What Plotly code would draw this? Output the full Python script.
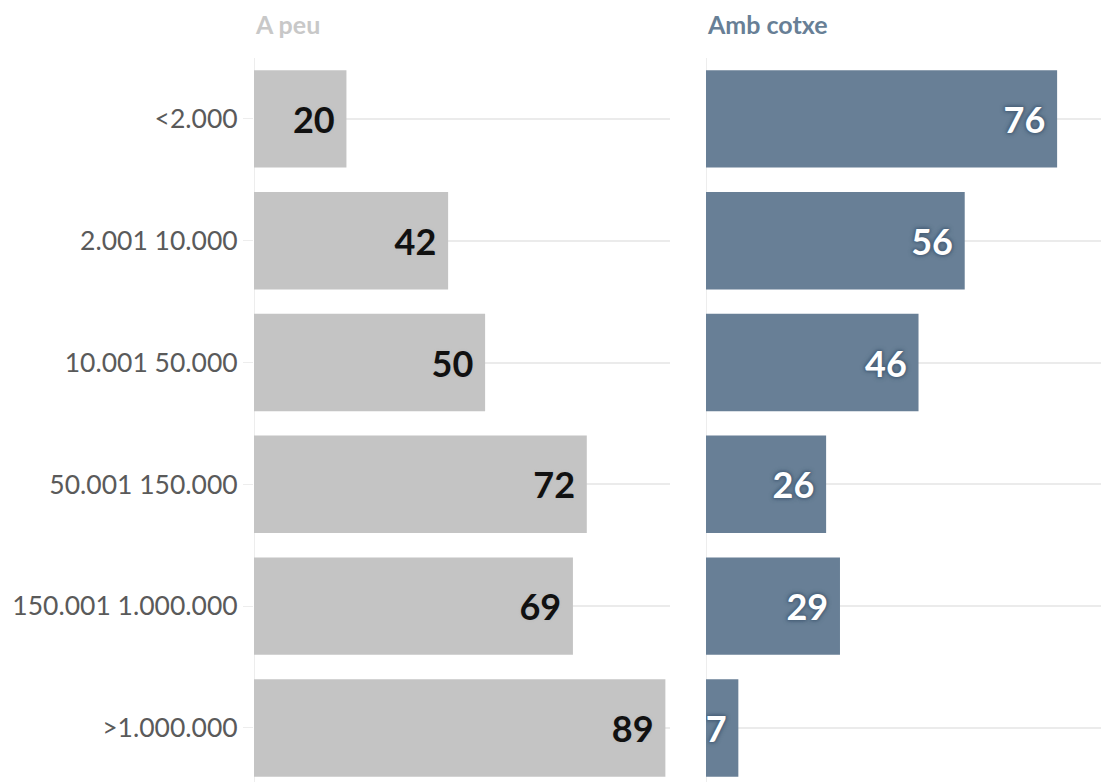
import plotly.graph_objects as go

categories = ["<2.000", "2.001 10.000", "10.001 50.000", "50.001 150.000",
              "150.001 1.000.000", ">1.000.000"]
a_peu = [20, 42, 50, 72, 69, 89]
amb_cotxe = [76, 56, 46, 26, 29, 7]

GRAY = "#c4c4c4"
SLATE = "#687f96"
# page body has an 8px margin; size the figure so it fills the window exactly
W, H = 1101, 774
OFF = 8
TOP = 58 - OFF

fig = go.Figure()
fig.add_trace(go.Bar(
    x=a_peu, y=categories, orientation="h", xaxis="x", yaxis="y",
    marker=dict(color=GRAY, line=dict(width=0)),
    texttemplate="%{x}\u00a0", textposition="inside", insidetextanchor="end",
    constraintext="none",
    textfont=dict(family="Lato", size=36, color="#111111", weight=700,
                  shadow="0 0 3px #b8b8b8"),
    hoverinfo="skip", showlegend=False,
))
fig.add_trace(go.Bar(
    x=amb_cotxe, y=categories, orientation="h", xaxis="x2", yaxis="y2",
    marker=dict(color=SLATE, line=dict(width=0)),
    texttemplate="%{x}\u00a0", textposition="inside", insidetextanchor="end",
    constraintext="none",
    textfont=dict(family="Lato", size=36, color="#ffffff", weight=700,
                  shadow="0 0 2px #4a627a, 0 0 3px #4a627a, 0 0 4px #4a627a, 0 0 5px #4a627a"),
    hoverinfo="skip", showlegend=False,
))

yrange = [5.444, -0.5]
fig.update_layout(
    width=W, height=H,
    margin=dict(l=0, r=0, t=TOP, b=0, pad=0),
    paper_bgcolor="white", plot_bgcolor="white",
    bargap=0.2,
    font=dict(family="Lato", color="#555555"),
    xaxis=dict(domain=[(254 - OFF) / W, (670 - OFF) / W], range=[0, 90], showgrid=False,
               showticklabels=False, zeroline=True, zerolinecolor="#ededed",
               zerolinewidth=1, fixedrange=True),
    xaxis2=dict(domain=[(706 - OFF) / W, 1.0], range=[0, 403 / 4.62], showgrid=False,
                showticklabels=False, zeroline=True, zerolinecolor="#ededed",
                zerolinewidth=1, fixedrange=True),
    yaxis=dict(anchor="x", type="category", range=yrange, showgrid=True,
               gridcolor="#ebebeb", gridwidth=2, ticks="outside", ticklen=10,
               tickcolor="#ededed", tickwidth=1,
               tickfont=dict(family="Lato", size=26.5, color="#5a5a5a"),
               ticklabelstandoff=0, zeroline=False, showline=False),
    yaxis2=dict(anchor="x2", type="category", range=yrange, showgrid=True,
                gridcolor="#ebebeb", gridwidth=2, showticklabels=False,
                zeroline=False, showline=False, matches="y"),
    annotations=[
        dict(text="<b>A peu</b>", xref="paper", yref="paper", x=(254 - OFF) / W,
             y=1 + TOP / (H - TOP), xanchor="left", yanchor="top", borderpad=0,
             showarrow=False, font=dict(family="Lato", size=25, color="#c8c8c8")),
        dict(text="<b>Amb cotxe</b>", xref="paper", yref="paper", x=(706 - OFF) / W,
             y=1 + TOP / (H - TOP), xanchor="left", yanchor="top", borderpad=0,
             showarrow=False, font=dict(family="Lato", size=25, color=SLATE)),
    ],
)

fig.write_html("out.html")
